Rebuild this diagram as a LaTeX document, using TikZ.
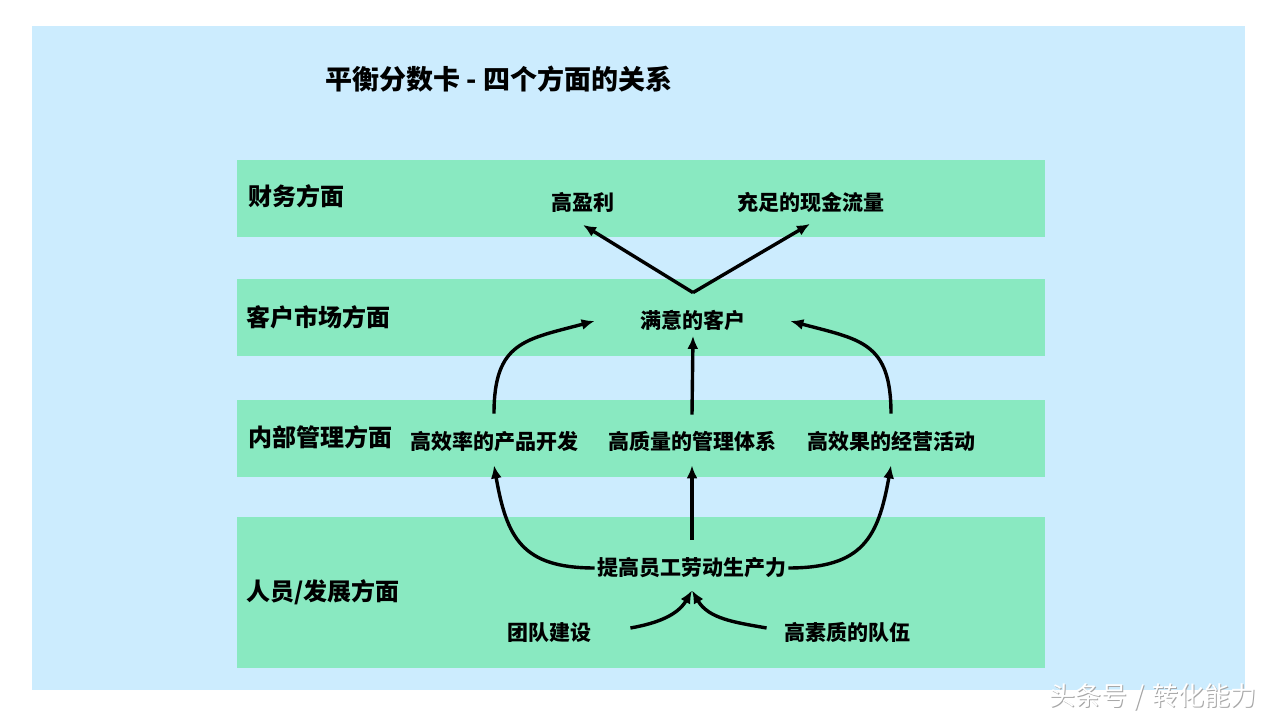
\documentclass[tikz,border=0pt]{standalone}
\usepackage{fontspec}
\setmainfont{Noto Sans CJK SC}
\usepackage{tikz}
\usetikzlibrary{arrows.meta,positioning}
\definecolor{panelblue}{HTML}{CCECFE}
\definecolor{bandgreen}{HTML}{89E9C1}

\begin{document}
\begin{tikzpicture}[x=1pt, y=1pt, thick,
    item/.style = {font=\fontsize{21}{21}\selectfont\bfseries, inner sep=0pt, text height=18.5pt, text depth=2.5pt},
    side/.style = {font=\fontsize{24}{24}\selectfont\bfseries, anchor=west, inner sep=0pt, text height=21pt, text depth=3pt},
    band/.style = {fill=bandgreen},
    link/.style = {-{Latex[length=13pt,width=11pt]}, line width=3.4pt}]
        \fill[white] (0,0) rectangle (1280,720);
        \fill[panelblue] (32,30) rectangle (1245,694);
        \fill[band] (237,483) rectangle (1045,560);
        \fill[band] (237,364) rectangle (1045,441);
        \fill[band] (237,243) rectangle (1045,320);
        \fill[band] (237,52) rectangle (1045,203);

        \node[font=\fontsize{27}{27}\selectfont\bfseries] (n_title) at (499,641) {平衡分数卡 - 四个方面的关系};

        \node[side] (n_cw) at (248,523) {财务方面};
        \node[side] (n_kh) at (246,402) {客户市场方面};
        \node[side] (n_nb) at (248,282) {内部管理方面};
        \node[side] (n_ry) at (246,128) {人员/发展方面};

        \node[item] (n_gyl) at (583,517) {高盈利};
        \node[item] (n_xjl) at (811,517) {充足的现金流量};
        \node[item] (n_myk) at (693,399) {满意的客户};
        \node[item] (n_cpkf) at (494,278) {高效率的产品开发};
        \node[item] (n_glt) at (692,278) {高质量的管理体系};
        \node[item] (n_jyhd) at (891,278) {高效果的经营活动};
        \node[item] (n_scl) at (692,152) {提高员工劳动生产力};
        \node[item] (n_tdjs) at (549,87) {团队建设};
        \node[item] (n_dw) at (847,87) {高素质的队伍};
        \coordinate[above=17.5pt of n_myk] (fork);

        \draw[link] (fork) -- ([yshift=-11pt]n_gyl.south);
        \draw[link] (fork) -- ([xshift=-1pt,yshift=-10pt]n_xjl.south);
        \draw[link] ([yshift=16.5pt]n_glt.north) -- ([yshift=-4pt]n_myk.south);
        \draw[link] ([yshift=17.5pt]n_cpkf.north) to[out=90, in=195, looseness=1.35] ([xshift=-45.5pt]n_myk.west);
        \draw[link] ([yshift=17.5pt]n_jyhd.north) to[out=90, in=-15, looseness=1.35] ([xshift=44.5pt]n_myk.east);
        \draw[link] ([yshift=17.5pt]n_scl.north) -- ([yshift=-12.5pt]n_glt.south);
        \draw[link] ([xshift=-2.5pt]n_scl.west) to[out=180, in=-80, looseness=1.3] ([yshift=-12.5pt]n_cpkf.south);
        \draw[link] ([xshift=1.5pt]n_scl.east) to[out=0, in=-100, looseness=1.3] ([yshift=-12.5pt]n_jyhd.south);
        \draw[link] ([xshift=39pt,yshift=5pt]n_tdjs.east) to[out=10, in=-120] ([yshift=-11.5pt]n_scl.south);
        \draw[link] ([xshift=-17pt,yshift=5pt]n_dw.west) to[out=170, in=-60] ([yshift=-11.5pt]n_scl.south);

        % watermark
        \node[font=\fontsize{26}{26}\selectfont, text=gray!70] (n_wms) at (1154,22) {头条号\hspace{7pt}/\hspace{7pt}转化能力};
        \node[font=\fontsize{26}{26}\selectfont, text=white] (n_wm) at (1153,23) {头条号\hspace{7pt}/\hspace{7pt}转化能力};
\end{tikzpicture}
\end{document}
